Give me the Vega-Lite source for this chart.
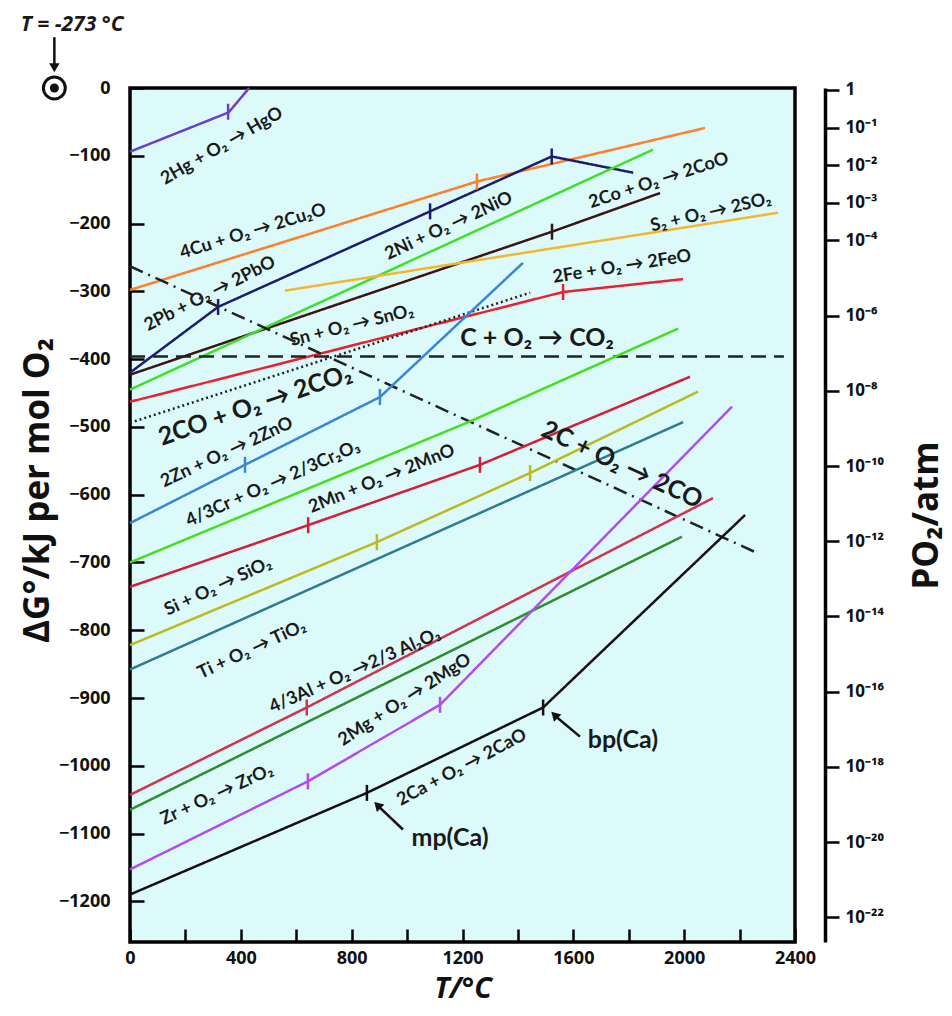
{
  "$schema": "https://vega.github.io/schema/vega-lite/v6.json",
  "autosize": {"type": "none"},
  "width": 665,
  "height": 854,
  "padding": {"left": 130, "top": 88, "right": 157, "bottom": 74},
  "background": "white",
  "config": {
    "view": {"fill": "#dcfafa", "stroke": "#000000", "strokeWidth": 3.5},
    "font": "Open Sans",
    "axis": {"labelFont": "Open Sans", "labelFontWeight": "bold", "labelColor": "#111111", "titleFont": "Open Sans", "titleColor": "#111111", "grid": false, "labelFlush": false, "labelOverlap": false}
  },
  "datasets": {
    "lines": [
      {"r": "Hg", "s": "solid", "T": 0, "G": -94}, {"r": "Hg", "s": "solid", "T": 356, "G": -36}, {"r": "Hg", "s": "solid", "T": 430, "G": 0},
      {"r": "Cu", "s": "solid", "T": 0, "G": -298}, {"r": "Cu", "s": "solid", "T": 1252, "G": -138}, {"r": "Cu", "s": "solid", "T": 2075, "G": -59},
      {"r": "PbNi", "s": "solid", "T": 0, "G": -420}, {"r": "PbNi", "s": "solid", "T": 318, "G": -323}, {"r": "PbNi", "s": "solid", "T": 1083, "G": -182}, {"r": "PbNi", "s": "solid", "T": 1522, "G": -101}, {"r": "PbNi", "s": "solid", "T": 1816, "G": -125},
      {"r": "Co", "s": "solid", "T": 0, "G": -423}, {"r": "Co", "s": "solid", "T": 1523, "G": -212}, {"r": "Co", "s": "solid", "T": 1913, "G": -155},
      {"r": "Sn", "s": "solid", "T": 0, "G": -445}, {"r": "Sn", "s": "solid", "T": 1887, "G": -91},
      {"r": "S", "s": "solid", "T": 559, "G": -299}, {"r": "S", "s": "solid", "T": 2339, "G": -184},
      {"r": "Fe", "s": "solid", "T": 0, "G": -463}, {"r": "Fe", "s": "solid", "T": 1563, "G": -301}, {"r": "Fe", "s": "solid", "T": 1996, "G": -282},
      {"r": "CO", "s": "dot", "T": 0, "G": -494}, {"r": "CO", "s": "dot", "T": 1444, "G": -302},
      {"r": "C", "s": "dash", "T": 0, "G": -396}, {"r": "C", "s": "dash", "T": 2360, "G": -396},
      {"r": "C2", "s": "dashdot", "T": 0, "G": -263}, {"r": "C2", "s": "dashdot", "T": 2263, "G": -686},
      {"r": "Zn", "s": "solid", "T": 0, "G": -642}, {"r": "Zn", "s": "solid", "T": 415, "G": -556}, {"r": "Zn", "s": "solid", "T": 902, "G": -456}, {"r": "Zn", "s": "solid", "T": 1418, "G": -258},
      {"r": "Cr", "s": "solid", "T": 0, "G": -700}, {"r": "Cr", "s": "solid", "T": 1227, "G": -492}, {"r": "Cr", "s": "solid", "T": 1978, "G": -355},
      {"r": "Mn", "s": "solid", "T": 0, "G": -736}, {"r": "Mn", "s": "solid", "T": 643, "G": -645}, {"r": "Mn", "s": "solid", "T": 1263, "G": -556}, {"r": "Mn", "s": "solid", "T": 2021, "G": -426},
      {"r": "Si", "s": "solid", "T": 0, "G": -822}, {"r": "Si", "s": "solid", "T": 891, "G": -670}, {"r": "Si", "s": "solid", "T": 1444, "G": -568}, {"r": "Si", "s": "solid", "T": 2050, "G": -448},
      {"r": "Ti", "s": "solid", "T": 0, "G": -858}, {"r": "Ti", "s": "solid", "T": 1996, "G": -493},
      {"r": "Al", "s": "solid", "T": 0, "G": -1043}, {"r": "Al", "s": "solid", "T": 638, "G": -914}, {"r": "Al", "s": "solid", "T": 2104, "G": -605},
      {"r": "Zr", "s": "solid", "T": 0, "G": -1065}, {"r": "Zr", "s": "solid", "T": 1992, "G": -662},
      {"r": "Mg", "s": "solid", "T": 0, "G": -1153}, {"r": "Mg", "s": "solid", "T": 642, "G": -1023}, {"r": "Mg", "s": "solid", "T": 1119, "G": -910}, {"r": "Mg", "s": "solid", "T": 2173, "G": -470},
      {"r": "Ca", "s": "solid", "T": 0, "G": -1190}, {"r": "Ca", "s": "solid", "T": 855, "G": -1040}, {"r": "Ca", "s": "solid", "T": 1491, "G": -914}, {"r": "Ca", "s": "solid", "T": 2220, "G": -630}
    ],
    "ticks": [
      {"r": "Hg", "T": 354, "G": -35}, {"r": "Cu", "T": 1252, "G": -138}, {"r": "PbNi", "T": 318, "G": -323}, {"r": "PbNi", "T": 1083, "G": -182}, {"r": "PbNi", "T": 1522, "G": -101},
      {"r": "Co", "T": 1523, "G": -212}, {"r": "Fe", "T": 1563, "G": -301}, {"r": "Zn", "T": 415, "G": -556}, {"r": "Zn", "T": 902, "G": -456},
      {"r": "Mn", "T": 643, "G": -645}, {"r": "Mn", "T": 1263, "G": -556}, {"r": "Si", "T": 891, "G": -670}, {"r": "Si", "T": 1444, "G": -568},
      {"r": "Al", "T": 638, "G": -914}, {"r": "Mg", "T": 642, "G": -1023}, {"r": "Mg", "T": 1119, "G": -910}, {"r": "Ca", "T": 855, "G": -1040}, {"r": "Ca", "T": 1491, "G": -914}
    ],
    "labels": [
      {"t": "2Hg + O₂ → HgO", "T": 332, "G": -86, "a": -30, "sz": 18},
      {"t": "4Cu + O₂ → 2Cu₂O", "T": 444, "G": -212, "a": -17, "sz": 18},
      {"t": "2Pb + O₂ → 2PbO", "T": 289, "G": -304, "a": -27, "sz": 18},
      {"t": "2Ni + O₂ → 2NiO", "T": 1151, "G": -204, "a": -25, "sz": 18},
      {"t": "2Co + O₂ → 2CoO", "T": 1909, "G": -137, "a": -18, "sz": 18},
      {"t": "S₂ + O₂ → 2SO₂", "T": 2097, "G": -184, "a": -13, "sz": 18},
      {"t": "2Fe + O₂ → 2FeO", "T": 1776, "G": -264, "a": -9, "sz": 18},
      {"t": "Sn + O₂ → SnO₂", "T": 801, "G": -351, "a": -14, "sz": 18},
      {"t": "C + O₂ → CO₂", "T": 1469, "G": -369, "a": 0, "sz": 25},
      {"t": "2CO + O₂ → 2CO₂", "T": 451, "G": -468, "a": -19, "sz": 25},
      {"t": "2Zn + O₂ → 2ZnO", "T": 350, "G": -538, "a": -25, "sz": 18},
      {"t": "4/3Cr + O₂ → 2/3Cr₂O₃", "T": 516, "G": -584, "a": -24, "sz": 18},
      {"t": "2Mn + O₂ → 2MnO", "T": 909, "G": -577, "a": -22, "sz": 18},
      {"t": "Si + O₂ → SiO₂", "T": 318, "G": -736, "a": -25, "sz": 18},
      {"t": "Ti + O₂ → TiO₂", "T": 440, "G": -829, "a": -25, "sz": 18},
      {"t": "4/3Al + O₂ →2/3 Al₂O₃", "T": 812, "G": -860, "a": -24, "sz": 18},
      {"t": "2Mg + O₂ → 2MgO", "T": 992, "G": -903, "a": -33, "sz": 18},
      {"t": "Zr + O₂ → ZrO₂", "T": 314, "G": -1043, "a": -25, "sz": 18},
      {"t": "2Ca + O₂ → 2CaO", "T": 1198, "G": -1003, "a": -28, "sz": 18},
      {"t": "mp(Ca)", "T": 1155, "G": -1106, "a": 0, "sz": 25},
      {"t": "bp(Ca)", "T": 1779, "G": -962, "a": 0, "sz": 25},
      {"t": "2C + O₂ → 2CO", "T": 1776, "G": -556, "a": 25, "sz": 25}
    ],
    "arrows": [
      {"T": 985, "G": -1094, "T2": 897, "G2": -1060},
      {"T": 1624, "G": -957, "T2": 1536, "G2": -927},
      {"T": -273, "G": 75, "T2": -273, "G2": 31}
    ],
    "heads": [
      {"T": 893, "G": -1058, "a": 315},
      {"T": 1532, "G": -925, "a": 315},
      {"T": -273, "G": 30, "a": 180}
    ]
  },
  "layer": [
    {
      "encoding": {
        "x": {
          "field": "T", "type": "quantitative",
          "scale": {"domain": [0, 2400], "nice": false, "zero": false},
          "axis": {
            "values": [0, 200, 400, 600, 800, 1000, 1200, 1400, 1600, 1800, 2000, 2200, 2400],
            "labelExpr": "datum.value % 400 === 0 ? datum.label : ''",
            "format": "d",
            "domain": false,
            "tickSize": -13, "tickWidth": 2.5, "tickColor": "#000000",
            "labelPadding": 20, "labelFontSize": 18,
            "title": "T/°C", "titleFontSize": 29, "titleFontStyle": "italic", "titleFontWeight": "bold", "titlePadding": 7
          }
        },
        "y": {
          "field": "G", "type": "quantitative",
          "scale": {"domain": [-1260, 0], "nice": false, "zero": false},
          "axis": {
            "values": [-1200, -1100, -1000, -900, -800, -700, -600, -500, -400, -300, -200, -100, 0],
            "format": "d",
            "domain": false,
            "tickSize": -14, "tickWidth": 2.5, "tickColor": "#000000",
            "labelPadding": 34, "labelFontSize": 18,
            "title": "ΔG°/kJ per mol O₂", "titleFontSize": 35, "titleFontWeight": "bold",
            "titleX": -93, "titleY": 402, "titleBaseline": "middle"
          }
        }
      },
      "layer": [
        {
          "data": {"name": "lines"},
          "mark": {"type": "line", "strokeWidth": 2.5},
          "encoding": {
            "detail": {"field": "r"},
            "color": {
              "field": "r", "type": "nominal", "legend": null,
              "scale": {
                "domain": ["Hg", "Cu", "PbNi", "Co", "Sn", "S", "Fe", "CO", "C", "C2", "Zn", "Cr", "Mn", "Si", "Ti", "Al", "Zr", "Mg", "Ca"],
                "range": ["#6a3fd0", "#ff7f2a", "#1c1c70", "#3c1414", "#3fe02a", "#f2b630", "#e8212e", "#222222", "#222222", "#222222", "#3a86d6", "#44e01c", "#d21e36", "#bdb91e", "#2c7d92", "#d2334a", "#2e8e2e", "#b24cf2", "#111111"]
              }
            },
            "strokeDash": {
              "field": "s", "type": "nominal", "legend": null,
              "scale": {"domain": ["solid", "dash", "dot", "dashdot"], "range": [[1, 0], [15, 8], [2, 3], [14, 6, 2, 6]]}
            }
          }
        },
        {
          "data": {"name": "ticks"},
          "mark": {"type": "point", "shape": "M0,-1L0,1", "size": 256, "filled": false, "strokeWidth": 2.5, "opacity": 1},
          "encoding": {
            "color": {
              "field": "r", "type": "nominal", "legend": null,
              "scale": {
                "domain": ["Hg", "Cu", "PbNi", "Co", "Sn", "S", "Fe", "CO", "C", "C2", "Zn", "Cr", "Mn", "Si", "Ti", "Al", "Zr", "Mg", "Ca"],
                "range": ["#6a3fd0", "#ff7f2a", "#1c1c70", "#3c1414", "#3fe02a", "#f2b630", "#e8212e", "#222222", "#222222", "#222222", "#3a86d6", "#44e01c", "#d21e36", "#bdb91e", "#2c7d92", "#d2334a", "#2e8e2e", "#b24cf2", "#111111"]
              }
            }
          }
        },
        {
          "data": {"name": "labels"},
          "mark": {"type": "text", "font": "Lato", "fontWeight": "bold", "align": "center", "baseline": "middle", "color": "#1a1a1a"},
          "encoding": {
            "text": {"field": "t"},
            "angle": {"field": "a", "type": "quantitative", "scale": null},
            "size": {"field": "sz", "type": "quantitative", "scale": null}
          }
        },
        {
          "data": {"values": [{"t": "T = -273 °C", "T": -209, "G": 93}]},
          "mark": {"type": "text", "font": "Open Sans", "fontWeight": "bold", "fontStyle": "italic", "fontSize": 21, "align": "center", "baseline": "middle", "color": "#1a1a1a"},
          "encoding": {"text": {"field": "t"}}
        },
        {
          "data": {"name": "arrows"},
          "mark": {"type": "rule", "strokeWidth": 2.5, "color": "#111111"},
          "encoding": {"x2": {"field": "T2"}, "y2": {"field": "G2"}}
        },
        {
          "data": {"name": "heads"},
          "mark": {"type": "point", "shape": "triangle-up", "filled": true, "size": 110, "color": "#111111", "opacity": 1},
          "encoding": {"angle": {"field": "a", "type": "quantitative", "scale": null}}
        },
        {
          "data": {"values": [{"T": -273, "G": 0}]},
          "mark": {"type": "point", "shape": "circle", "filled": false, "size": 480, "strokeWidth": 3, "color": "#111111", "opacity": 1}
        },
        {
          "data": {"values": [{"T": -273, "G": 0}]},
          "mark": {"type": "point", "shape": "circle", "filled": true, "size": 81, "color": "#111111", "opacity": 1}
        }
      ]
    },
    {
      "data": {"values": [{"P": 1}, {"P": 1e-22}]},
      "mark": {"type": "point", "opacity": 0},
      "encoding": {
        "y": {
          "field": "P", "type": "quantitative",
          "scale": {"type": "log", "domain": [2.2e-23, 1.13], "nice": false},
          "axis": {
            "orient": "right", "offset": 30,
            "values": [1, 0.1, 0.01, 0.001, 0.0001, 1e-6, 1e-8, 1e-10, 1e-12, 1e-14, 1e-16, 1e-18, 1e-20, 1e-22],
            "labelExpr": "datum.value > 0.5 ? '1' : '10⁻' + (round(-log(datum.value)/LN10) >= 10 ? ['⁰','¹','²','³','⁴','⁵','⁶','⁷','⁸','⁹'][floor(round(-log(datum.value)/LN10)/10)] : '') + ['⁰','¹','²','³','⁴','⁵','⁶','⁷','⁸','⁹'][round(-log(datum.value)/LN10) % 10]",
            "domainColor": "#000000", "domainWidth": 3.5,
            "tickColor": "#000000", "tickWidth": 2.5, "tickSize": 14,
            "labelPadding": 6, "labelFontSize": 17,
            "title": "PO₂/atm", "titleFontSize": 35, "titleFontWeight": "bold",
            "titleAngle": 270, "titleBaseline": "top", "titlePadding": 26
          }
        }
      }
    }
  ],
  "resolve": {"scale": {"y": "independent"}}
}
